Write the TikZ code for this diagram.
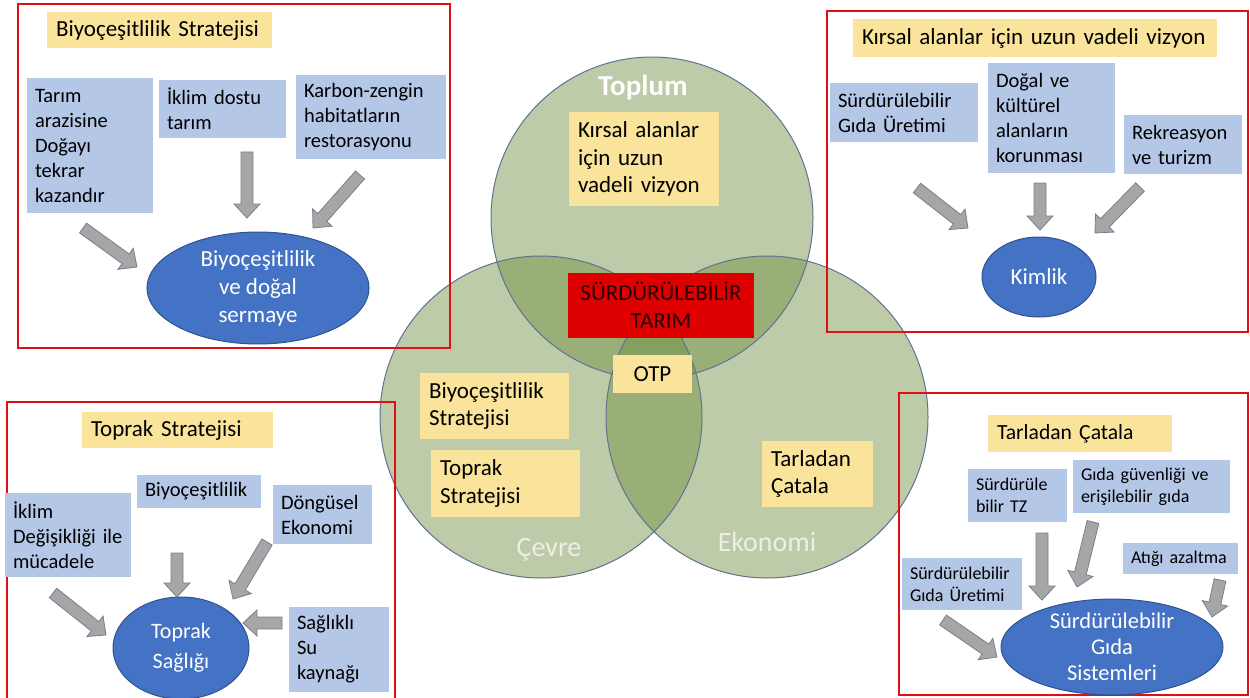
\documentclass[tikz,border=0pt]{standalone}
\usepackage{fontspec}
\setmainfont{Carlito}
\usetikzlibrary{shapes.geometric,calc}

\definecolor{framered}{RGB}{224,16,16}
\definecolor{boxblue}{RGB}{180,199,231}
\definecolor{boxyellow}{RGB}{250,228,156}
\definecolor{ellblue}{RGB}{68,114,196}
\definecolor{ellline}{RGB}{47,82,143}
\definecolor{arrfill}{RGB}{166,166,166}
\definecolor{arrline}{RGB}{118,128,148}
\definecolor{vennfill}{RGB}{110,139,62}
\definecolor{vennline}{RGB}{95,115,145}
\definecolor{tarimred}{RGB}{222,0,0}
\definecolor{tarimtext}{RGB}{40,0,0}
\definecolor{vennword}{RGB}{236,240,228}

\tikzset{
  redframe/.style={draw=framered, line width=2pt},
  vennarea/.style={fill=vennfill, fill opacity=0.45},
  vennrim/.style={draw=vennline, line width=1pt},
  bluebox/.style 2 args={fill=boxblue, inner xsep=8pt, inner ysep=0pt, align=left,
    text width=#1, minimum height=#2, font=\fontsize{20.5}{25}\selectfont},
  smallbox/.style 2 args={bluebox={#1}{#2}, font=\fontsize{18}{22}\selectfont},
  yellowbox/.style 2 args={fill=boxyellow, inner xsep=9pt, inner ysep=0pt, align=left,
    text width=#1, minimum height=#2, font=\fontsize{23}{27.5}\selectfont},
  ell/.style 2 args={ellipse, minimum width=#1, minimum height=#2, inner sep=0pt,
    fill=ellblue, draw=ellline, line width=1pt, text=white, align=center,
    font=\fontsize{23}{28}\selectfont},
  vennword/.style={text=vennword, font=\fontsize{28}{32}\selectfont},
  blockarr/.style={fill=arrfill, draw=arrline, line width=0.8pt, line join=miter}
}

\newcommand{\blockarrow}[2]{%
  \draw[blockarr] let \p1=(#1), \p2=(#2), \n1={atan2(\y2-\y1,\x2-\x1)},
    \n2={veclen(\x2-\x1,\y2-\y1)} in
    [shift={(\p1)}, rotate=\n1]
    (0pt,-6pt) -- (\n2*1pt-14pt,-6pt) -- (\n2*1pt-14pt,-13pt) -- (\n2*1pt,0pt)
    -- (\n2*1pt-14pt,13pt) -- (\n2*1pt-14pt,6pt) -- (0pt,6pt) -- cycle;}

\begin{document}
\begin{tikzpicture}[x=1pt,y=-1pt]
\useasboundingbox (0,0) rectangle (1250,698);

\fill[vennarea] (652,218) circle[radius=161pt];
\fill[vennarea] (541,417) circle[radius=161pt];
\fill[vennarea] (767,417) circle[radius=161pt];
\draw[vennrim] (652,218) circle[radius=161pt];
\draw[vennrim] (541,417) circle[radius=161pt];
\draw[vennrim] (767,417) circle[radius=161pt];

\draw[redframe] (18,4) rectangle (450,348);
\draw[redframe] (827,11) rectangle (1248,332);
\draw[redframe] (7,402) rectangle (395,700);
\draw[redframe] (899,393) rectangle (1248,695);

\node[text=white, font=\bfseries\fontsize{29}{34}\selectfont] (toplum) at (643,88) {Toplum};
\node[vennword] (cevre) at (549,550) {Çevre};
\node[vennword] (ekonomi) at (767,542) {Ekonomi};
\node[yellowbox={132pt}{94pt}] (v-kirsal) at (644,159) {Kırsal alanlar\\için uzun\\vadeli vizyon};
\node[fill=tarimred, text=tarimtext, align=center, minimum width=186pt, minimum height=65pt,
  inner sep=0pt, font=\fontsize{23}{28}\selectfont] (tarim) at (661,305.5) {SÜRDÜRÜLEBİLİR\\TARIM};
\node[fill=boxyellow, minimum width=79pt, minimum height=38pt, inner sep=0pt,
  font=\fontsize{23}{27.5}\selectfont] (otp) at (652.5,374) {OTP};
\node[yellowbox={131pt}{66pt}] (v-biyo) at (494.5,406) {Biyoçeşitlilik\\Stratejisi};
\node[yellowbox={131pt}{67pt}] (v-toprak) at (505.5,483.5) {Toprak\\Stratejisi};
\node[yellowbox={93pt}{66pt}] (v-tarla) at (817.5,474) {Tarladan\\Çatala};

\node[yellowbox={207pt}{36pt}] (tl-title) at (159.5,30) {Biyoçeşitlilik Stratejisi};
\node[bluebox={110pt}{135pt}] (tl-tarim) at (90,145.5) {Tarım\\arazisine\\Doğayı\\tekrar\\kazandır};
\node[bluebox={111pt}{58pt}] (tl-iklim) at (222.5,109) {İklim dostu\\tarım};
\node[bluebox={134pt}{84pt}] (tl-karbon) at (371,117) {Karbon-zengin\\habitatların\\restorasyonu};
\node[ell={222pt}{112pt}] (tl-ell) at (258,288) {Biyoçeşitlilik\\ve doğal\\sermaye};
\coordinate (tl-s1) at (83,228);
\coordinate (tl-e1) at (137,267);
\coordinate (tl-s2) at (247,152);
\coordinate (tl-e2) at (247,218);
\coordinate (tl-s3) at (360,175);
\coordinate (tl-e3) at (313,228);
\blockarrow{tl-s1}{tl-e1}
\blockarrow{tl-s2}{tl-e2}
\blockarrow{tl-s3}{tl-e3}

\node[yellowbox={346pt}{38pt}] (tr-title) at (1035,38) {Kırsal alanlar için uzun vadeli vizyon};
\node[bluebox={132pt}{59pt}] (tr-gida) at (904,112.5) {Sürdürülebilir\\Gıda Üretimi};
\node[bluebox={111pt}{110pt}] (tr-dogal) at (1051.5,118) {Doğal ve\\kültürel\\alanların\\korunması};
\node[bluebox={102pt}{59pt}] (tr-rekreasyon) at (1183,144.5) {Rekreasyon\\ve turizm};
\node[ell={114pt}{80pt}] (tr-ell) at (1039,277) {Kimlik};
\coordinate (tr-s1) at (917,188);
\coordinate (tr-e1) at (968,228);
\coordinate (tr-s2) at (1040,183);
\coordinate (tr-e2) at (1040,230);
\coordinate (tr-s3) at (1140,187);
\coordinate (tr-e3) at (1095,233);
\blockarrow{tr-s1}{tr-e1}
\blockarrow{tr-s2}{tr-e2}
\blockarrow{tr-s3}{tr-e3}

\node[yellowbox={173pt}{36pt}] (bl-title) at (177.5,430) {Toprak Stratejisi};
\node[bluebox={110pt}{84pt}] (bl-iklim) at (68,535) {İklim\\Değişikliği ile\\mücadele};
\node[bluebox={108pt}{33pt}] (bl-biyo) at (199,491.5) {Biyoçeşitlilik};
\node[bluebox={83pt}{59pt}] (bl-dongusel) at (322.5,514.5) {Döngüsel\\Ekonomi};
\node[bluebox={84pt}{85pt}] (bl-su) at (339,649.5) {Sağlıklı\\Su\\kaynağı};
\node[ell={136pt}{102pt}, font=\fontsize{22}{30}\selectfont] (bl-ell) at (181,648) {Toprak\\Sağlığı};
\coordinate (bl-s1) at (53,593);
\coordinate (bl-e1) at (106,635);
\coordinate (bl-s2) at (177,553);
\coordinate (bl-e2) at (177,597);
\coordinate (bl-s3) at (267,542);
\coordinate (bl-e3) at (233,599);
\coordinate (bl-s4) at (282,623);
\coordinate (bl-e4) at (243,623);
\blockarrow{bl-s1}{bl-e1}
\blockarrow{bl-s2}{bl-e2}
\blockarrow{bl-s3}{bl-e3}
\blockarrow{bl-s4}{bl-e4}

\node[yellowbox={166pt}{37pt}, font=\fontsize{21.6}{26}\selectfont] (br-title) at (1080,433.5) {Tarladan Çatala};
\node[smallbox={83pt}{53pt}] (br-tz) at (1017.5,495.5) {Sürdürüle\\bilir TZ};
\node[smallbox={141pt}{53pt}] (br-guvenlik) at (1151.5,486.5) {Gıda güvenliği ve\\erişilebilir gıda};
\node[smallbox={99pt}{31pt}] (br-atik) at (1180.5,558.5) {Atığı azaltma};
\node[smallbox={104pt}{52pt}] (br-uretim) at (962,584) {Sürdürülebilir\\Gıda Üretimi};
\node[ell={222pt}{90pt}, font=\fontsize{22.5}{26}\selectfont] (br-ell) at (1112,647) {Sürdürülebilir\\Gıda\\Sistemleri};
\coordinate (br-s1) at (1042,533);
\coordinate (br-e1) at (1042,600);
\coordinate (br-s2) at (1093,522);
\coordinate (br-e2) at (1077,587);
\coordinate (br-s3) at (1220,580);
\coordinate (br-e3) at (1212,617);
\coordinate (br-s4) at (943,620);
\coordinate (br-e4) at (997,657);
\blockarrow{br-s1}{br-e1}
\blockarrow{br-s2}{br-e2}
\blockarrow{br-s3}{br-e3}
\blockarrow{br-s4}{br-e4}
\end{tikzpicture}
\end{document}
